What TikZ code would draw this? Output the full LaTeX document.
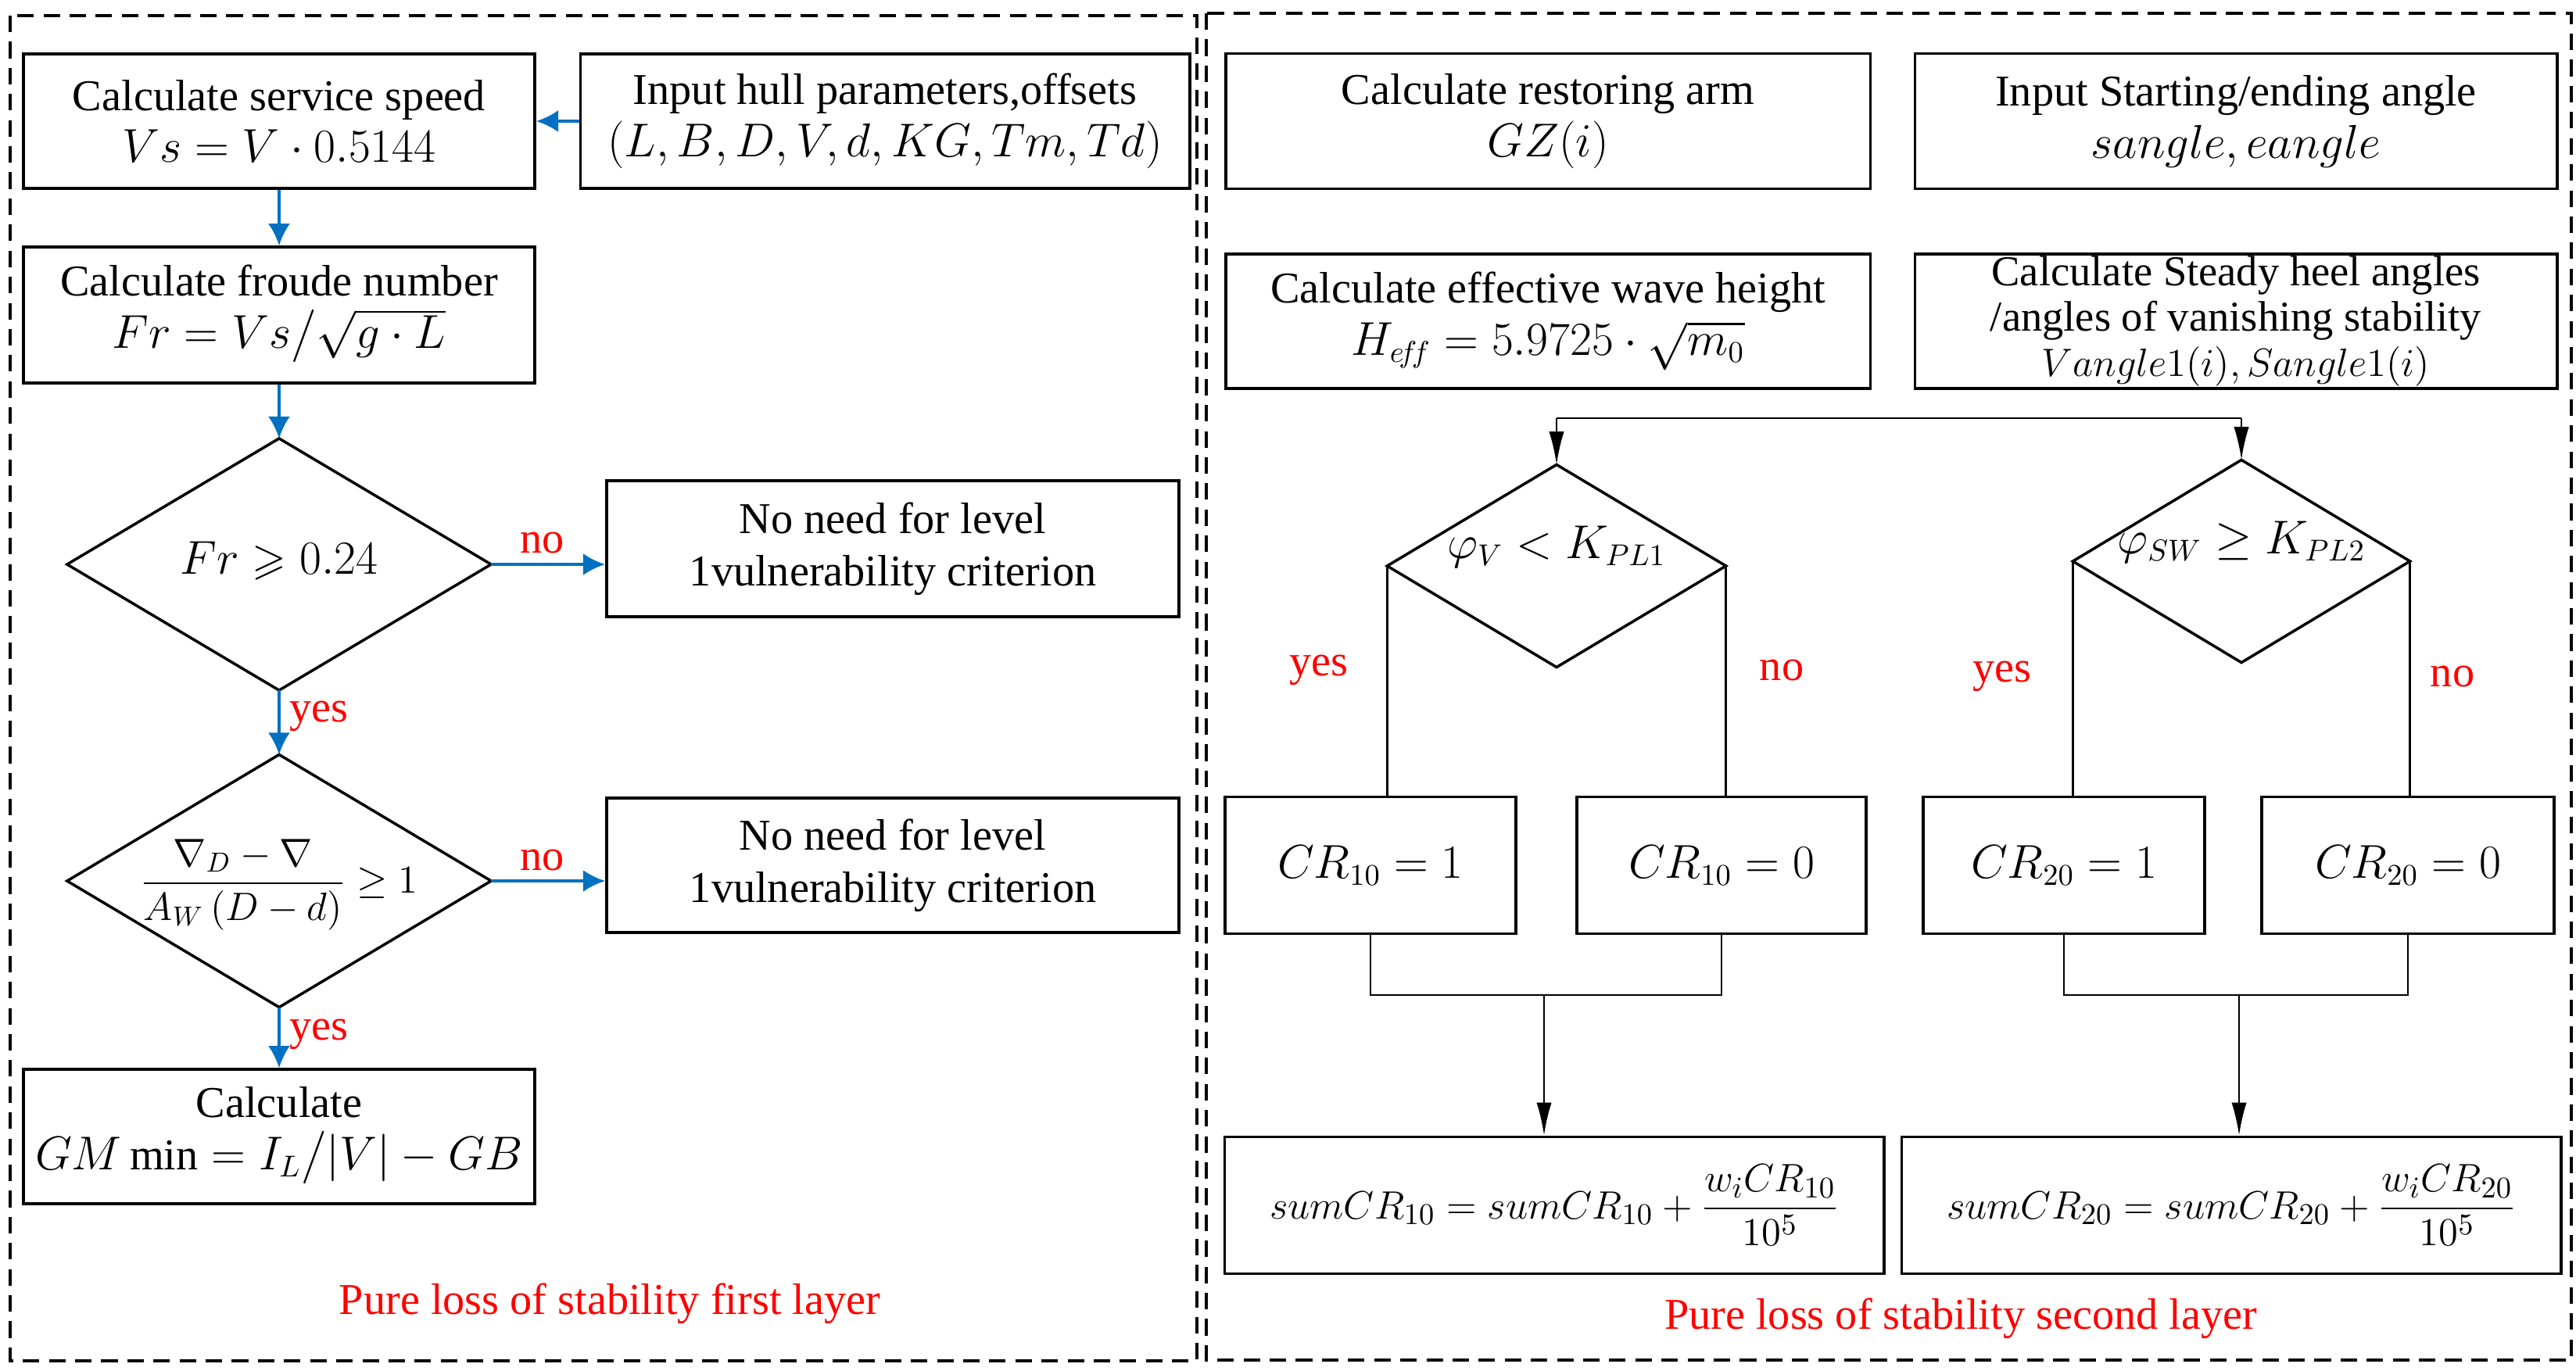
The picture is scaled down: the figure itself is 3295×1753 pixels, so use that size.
\documentclass[tikz,border=0pt]{standalone}
\usepackage{amsmath,amssymb}
\usepackage{fontspec}
\setmainfont{Liberation Serif}
\usetikzlibrary{shapes.geometric,arrows.meta}
\definecolor{fblue}{RGB}{0,112,192}
\newcommand{\zb}[1]{\makebox[0pt]{\smash{#1}}}
\begin{document}
\begin{tikzpicture}[x=0.01cm,y=-0.01cm,
  box/.style={draw,line width=1pt,align=center,inner sep=0pt,font=\fontsize{16}{19}\selectfont},
  dia/.style={draw,line width=1pt,diamond,inner sep=0pt,outer sep=0pt,font=\fontsize{16}{19}\selectfont},
  barr/.style={draw=fblue,line width=1pt,-{Latex[length=8pt,width=8pt]}},
  karr/.style={line width=0.8pt,-{Latex[length=12pt,width=5.5pt]}},
  kl/.style={line width=0.8pt},
  lab/.style={text=red,font=\fontsize{16}{19}\selectfont},
  frame/.style={line width=1pt,dash pattern=on 6pt off 3.5pt}]
\useasboundingbox (0,0) rectangle (3295,1753);
% frames
\draw[frame] (13,20) rectangle (1531,1741);
\draw[frame] (1543,17) rectangle (3289,1740);
% left column
\node[box,minimum width=6.54cm,minimum height=1.72cm] (svc) at (357,155) {Calculate service speed\\ $Vs = V\cdot 0.5144$};
\node[box,minimum width=7.79cm,minimum height=1.72cm] (inp) at (1132,155) {Input hull parameters,offsets\\ $\left(L,B,D,V,d,KG,Tm,Td\right)$};
\node[box,minimum width=6.54cm,minimum height=1.74cm] (fr) at (357,403) {Calculate froude number\\ $Fr = Vs\big/\sqrt{g\cdot L}$};
\node[dia,minimum width=5.42cm,minimum height=3.22cm] (d1) at (357,722) {\zb{\raisebox{-0.5ex}{$Fr\geqslant 0.24$}}};
\node[box,minimum width=7.32cm,minimum height=1.74cm] (no1) at (1142,702) {No need for level\\ 1vulnerability criterion};
\node[dia,minimum width=5.42cm,minimum height=3.23cm] (d2) at (357,1127) {\zb{\raisebox{-0.6ex}{\fontsize{14}{16}\selectfont$\dfrac{\nabla_D-\nabla}{A_W\,(D-d)}\geq 1$}}};
\node[box,minimum width=7.32cm,minimum height=1.72cm] (no2) at (1142,1107) {No need for level\\ 1vulnerability criterion};
\node[box,minimum width=6.54cm,minimum height=1.72cm] (gm) at (357,1454) {Calculate\\ $GM\,\mathrm{min} = I_L\big/\lvert V\rvert - GB$};
\node[lab] (lab1) at (780,1668) {Pure loss of stability first layer};
\draw[barr] (inp.west) -- (svc.east);
\draw[barr] (svc.south) -- (fr.north);
\draw[barr] (fr.south) -- (d1.north);
\draw[barr] (d1.east) -- node[lab,above,pos=0.45] (n1) {no} (no1.west |- d1.east);
\draw[barr] (d1.south) -- node[lab,right,pos=0.4] (y1) {yes} (d2.north);
\draw[barr] (d2.east) -- node[lab,above,pos=0.45] (n2) {no} (no2.west |- d2.east);
\draw[barr] (d2.south) -- node[lab,right,pos=0.45] (y2) {yes} (gm.north);
% right column
\node[box,minimum width=8.24cm,minimum height=1.73cm] (rest) at (1980,155) {Calculate restoring arm\\ $GZ(i)$};
\node[box,minimum width=8.21cm,minimum height=1.73cm] (ang) at (2860,155) {Input Starting/ending angle\\ $sangle,eangle$};
\node[box,minimum width=8.24cm,minimum height=1.72cm] (eff) at (1980,411) {Calculate effective wave height\\ $H_{e\!f\!f} = 5.9725\cdot\sqrt{m_0}$};
\node[box,minimum width=8.21cm,minimum height=1.72cm,font=\fontsize{15.5}{16.5}\selectfont] (heel) at (2860,411) {Calculate Steady heel angles\\ /angles of vanishing stability\\ $Vangle1(i),Sangle1(i)$};
\node[dia,minimum width=4.33cm,minimum height=2.59cm] (dv) at (1991,724) {};
\node[font=\fontsize{16}{19}\selectfont] (dvt) at (1991,700) {$\varphi_V < K_{PL1}$};
\node[dia,minimum width=4.31cm,minimum height=2.59cm] (dsw) at (2867,718) {};
\node[font=\fontsize{16}{19}\selectfont] (dswt) at (2867,694) {$\varphi_{SW}\geq K_{PL2}$};
\node[box,minimum width=3.72cm,minimum height=1.75cm] (cr1) at (1753,1107) {$CR_{10}=1$};
\node[box,minimum width=3.70cm,minimum height=1.75cm] (cr2) at (2202,1107) {$CR_{10}=0$};
\node[box,minimum width=3.60cm,minimum height=1.75cm] (cr3) at (2640,1107) {$CR_{20}=1$};
\node[box,minimum width=3.74cm,minimum height=1.75cm] (cr4) at (3080,1107) {$CR_{20}=0$};
\node[box,minimum width=8.43cm,minimum height=1.75cm,font=\fontsize{15}{18}\selectfont] (sum1) at (1988,1542) {$sumCR_{10} = sumCR_{10} + \dfrac{w_iCR_{10}}{10^5}$};
\node[box,minimum width=8.43cm,minimum height=1.75cm,font=\fontsize{15}{18}\selectfont] (sum2) at (2854,1542) {$sumCR_{20} = sumCR_{20} + \dfrac{w_iCR_{20}}{10^5}$};
\node[lab] (lab2) at (2508,1687) {Pure loss of stability second layer};
\coordinate (sl) at (1991,535);
\coordinate (sr) at (2867,535);
\draw[kl] (sl) -- (sr);
\draw[karr] (sl) -- (dv.north);
\draw[karr] (sr) -- (dsw.north);
\draw[kl] (dv.west) -- (dv.west |- cr1.north);
\draw[kl] (dv.east) -- (dv.east |- cr2.north);
\draw[kl] (dsw.west) -- (dsw.west |- cr3.north);
\draw[kl] (dsw.east) -- (dsw.east |- cr4.north);
\node[lab] (y3) at (1687,857) {yes};
\node[lab] (n3) at (2279,857) {no};
\node[lab] (y4) at (2561,865) {yes};
\node[lab] (n4) at (3137,865) {no};
\coordinate (m1) at (1975,1273);
\coordinate (m2) at (2864,1273);
\draw[kl] (cr1.south) -- (cr1.south |- m1) -- (cr2.south |- m1) -- (cr2.south);
\draw[kl] (cr3.south) -- (cr3.south |- m2) -- (cr4.south |- m2) -- (cr4.south);
\draw[karr] (m1) -- (m1 |- sum1.north);
\draw[karr] (m2) -- (m2 |- sum2.north);
\end{tikzpicture}
\end{document}
